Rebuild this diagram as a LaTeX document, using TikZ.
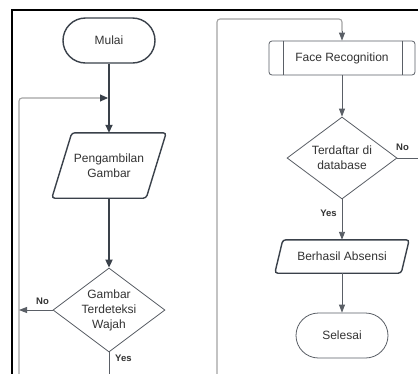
\documentclass[tikz,border=0pt]{standalone}
\usepackage{fontspec}
\setmainfont{Liberation Sans}
\usetikzlibrary{shapes.geometric,shapes.misc,arrows.meta,calc}
\definecolor{dk}{HTML}{3A414A}
\definecolor{md}{HTML}{5A5F66}
\definecolor{lg}{HTML}{A3A3A3}
\definecolor{tx}{HTML}{333333}
\begin{document}
\begin{tikzpicture}[x=1pt,y=-1pt,
  font=\fontsize{12}{15}\selectfont, text=tx,
  term/.style={rounded rectangle, minimum width=92pt, minimum height=45pt, inner sep=0pt},
  pbox/.style={rectangle, draw=none, inner sep=0pt, align=center},
  dia/.style={diamond, draw=md, line width=0.8pt, inner sep=0pt},
  txt/.style={align=center, inner sep=0pt},
  lab/.style={font=\fontsize{9.5}{11}\selectfont\bfseries, text=tx, inner sep=0pt},
  thickarr/.style={draw=dk, line width=1.8pt, -{Triangle[width=7pt,length=8pt]}},
  thinarr/.style={draw=md, line width=0.9pt, -{Triangle[width=6pt,length=8pt]}},
  loopline/.style={draw=lg, line width=1.1pt, rounded corners=3pt},
]
\useasboundingbox (0,0) rectangle (418,373);
\fill[white] (0,0) rectangle (418,373);

% frame
\coordinate (fbl) at (12,380);
\coordinate (ftl) at (12,10);
\coordinate (ftr) at (425,10);
\draw[black, line width=2.2pt] (fbl) -- (ftl) -- (ftr);

% left column
\node[term, draw=dk, line width=1.4pt] (start) at (109,40.5) {Mulai};
\node[pbox, minimum width=94pt, minimum height=65pt] (p1) at (109,165.5) {Pengambilan\\Gambar};
\draw[dk, line width=1.4pt, rounded corners=3pt]
  ($(p1.north west)+(10,0)$) -- ($(p1.north east)+(10,0)$) --
  ($(p1.south east)+(-10,0)$) -- ($(p1.south west)+(-10,0)$) -- cycle;
\node[dia, minimum width=112pt, minimum height=84pt] (d1) at (109,310) {};
\node[txt] (d1t) at (d1.center) {Gambar\\Terdeteksi\\Wajah};

\coordinate (merge) at (109,98);
\draw[thickarr] (start.south) -- (p1.north);
\draw[thickarr] (p1.south) -- (d1.north);

% left loop
\coordinate (ll1) at (19,380);
\coordinate (ll2) at (19,98);
\draw[loopline] (ll1) -- (ll2) -- ($(merge)+(-8,0)$);
\draw[draw=dk, line width=0.9pt, -{Triangle[width=7pt,length=8pt]}] ($(merge)+(-9,0)$) -- ($(merge)+(-1,0)$);
\coordinate (noL) at (19,310);
\draw[thinarr] (d1.west) -- (noL);
\node[lab] (lno1) at (42.5,301) {No};
\coordinate (d1down) at (109,380);
\draw[md, line width=0.9pt] (d1.south) -- (d1down);
\node[lab, anchor=west] (lyes1) at (115,358) {Yes};

% right column
\node[rectangle, draw=md, line width=0.8pt, rounded corners=3pt, minimum width=146pt, minimum height=34pt, inner sep=0pt] (fr) at (342,58) {Face Recognition};
\draw[md, line width=0.8pt] ($(fr.north west)+(14.5,0)$) -- ($(fr.south west)+(14.5,0)$);
\draw[md, line width=0.8pt] ($(fr.north east)+(-13,0)$) -- ($(fr.south east)+(-13,0)$);

\node[dia, minimum width=110pt, minimum height=82pt] (d2) at (342,158) {};
\node[txt] (d2t) at (d2.center) {Terdaftar di\\database};

\node[pbox, minimum width=126pt, minimum height=33pt] (p2) at (342,256.5) {Berhasil Absensi};
\draw[dk, line width=1.4pt, rounded corners=3pt]
  ($(p2.north west)+(4,0)$) -- ($(p2.north east)+(4,0)$) --
  ($(p2.south east)+(-4,0)$) -- ($(p2.south west)+(-4,0)$) -- cycle;

\node[term, draw=md, line width=0.8pt] (stop) at (342,335.5) {Selesai};

\draw[thinarr] (fr.south) -- (d2.north);
\draw[thinarr] (d2.south) -- (p2.north);
\draw[thinarr] (p2.south) -- (stop.north);
\node[lab] (lyes2) at (328.5,213) {Yes};
\coordinate (noR) at (425,158);
\draw[md, line width=0.9pt] (d2.east) -- (noR);
\node[lab] (lno2) at (402.5,147.5) {No};

% right loop
\coordinate (rl1) at (217,380);
\coordinate (rl2) at (217,19);
\coordinate (rl3) at (342,19);
\draw[loopline] (rl1) -- (rl2) -- (rl3) -- ($(fr.north)+(0,-9)$);
\draw[thinarr] ($(fr.north)+(0,-10)$) -- (fr.north);
\end{tikzpicture}
\end{document}
